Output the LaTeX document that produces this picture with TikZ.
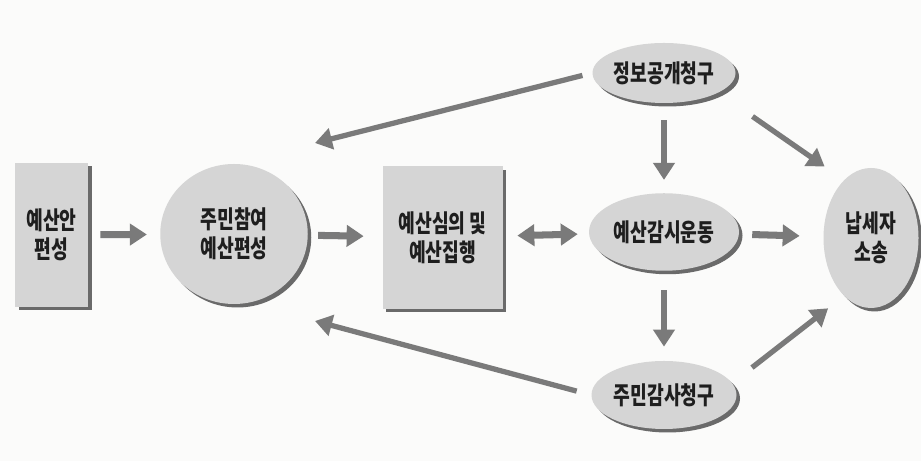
\documentclass[tikz,border=0pt]{standalone}
\usepackage{fontspec}
\newfontfamily\kr[FakeStretch=0.74]{Noto Sans CJK KR}
\usetikzlibrary{shapes.geometric,shadows,arrows.meta}
\definecolor{paper}{HTML}{FBFBFA}
\definecolor{boxfill}{HTML}{D5D5D5}
\definecolor{shade}{HTML}{6A6A6A}
\definecolor{arrowgray}{HTML}{7A7A7A}
\definecolor{ink}{HTML}{1E1E1E}

\begin{document}
\begin{tikzpicture}[
  >={Triangle[width=0.42cm,length=0.34cm]},
  every node/.style={font=\kr\bfseries\fontsize{14}{16.5}\selectfont, text=ink, align=center},
  box/.style={rectangle, fill=boxfill, inner sep=0pt,
    drop shadow={shadow xshift=0.07cm, shadow yshift=-0.07cm, fill=shade, opacity=1}},
  blob/.style={ellipse, fill=boxfill, inner sep=0pt,
    drop shadow={shadow xshift=0.07cm, shadow yshift=-0.07cm, fill=shade, opacity=1}},
  flow/.style={line width=4pt, draw=arrowgray},
  link/.style={line width=3pt, draw=arrowgray}
]
\useasboundingbox[fill=paper] (0,0) rectangle (18.42,9.22);

\node (plan) at (1.03,4.52) [box,minimum width=1.46cm,minimum height=2.88cm] {예산안\\편성};
\node (part) at (4.68,4.54) [blob,minimum width=2.95cm,minimum height=2.8cm] {주민참여\\예산편성};
\node (exec) at (8.85,4.47) [box,minimum width=2.4cm,minimum height=2.85cm] {예산심의 및\\예산집행};
\node (audit) at (13.28,4.58) [blob,minimum width=3.0cm,minimum height=1.55cm] {예산감시운동};
\node (suit) at (17.42,4.46) [blob,minimum width=1.9cm,minimum height=2.8cm] {납세자\\소송};
\node (info) at (13.28,7.76) [blob,minimum width=2.86cm,minimum height=1.2cm] {정보공개청구};
\node (claim) at (13.28,1.32) [blob,minimum width=2.9cm,minimum height=1.36cm] {주민감사청구};
\coordinate (infoend) at (6.3,6.36);
\coordinate (claimend) at (6.3,2.8);

% main line
\draw [flow,->,shorten <=0.24cm,shorten >=0.26cm] (plan) -- (part);
\draw [flow,->,shorten <=0.2cm,shorten >=0.37cm] (part) -- (exec);
\draw [flow,<->,shorten <=0.29cm,shorten >=0.22cm] (exec) -- (audit);
\draw [flow,->,shorten <=0.26cm,shorten >=0.47cm] (audit) -- (suit);

% claims
\draw [link,->,shorten <=0.34cm,shorten >=0.26cm] (info) -- (audit);
\draw [link,->,shorten <=0.38cm,shorten >=0.28cm] (audit) -- (claim);
\draw [link,->,shorten <=0.83cm,shorten >=0.47cm] (info.-20) -- (suit.115);
\draw [link,->,shorten <=0.5cm,shorten >=0.4cm] (claim.10) -- (suit.-115);
\draw [link,->,shorten <=0.2cm] (info.west) -- (infoend);
\draw [link,->,shorten <=0.3cm] (claim.west) -- (claimend);
\end{tikzpicture}
\end{document}
